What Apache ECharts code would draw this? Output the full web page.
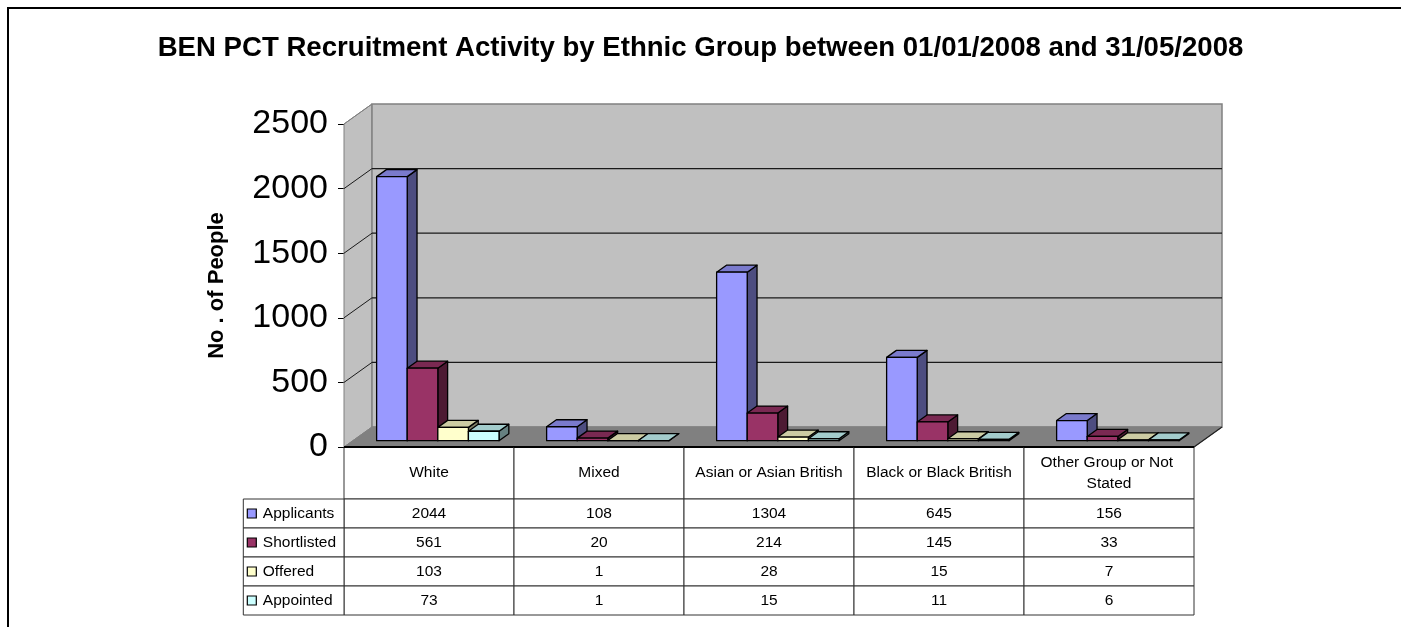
<!DOCTYPE html>
<html>
<head>
<meta charset="utf-8">
<script src="https://cdn.jsdelivr.net/npm/echarts@6/dist/echarts.min.js"></script>
<style>
  html, body { margin: 0; padding: 0; background: #fff; }
  #chart { width: 1401px; height: 627px; }
</style>
</head>
<body>
<div id="chart"></div>
<script>
// Recruitment counts per ethnic group
const categories = ['White', 'Mixed', 'Asian or Asian British', 'Black or Black British', 'Other Group or Not Stated'];
const applicants = [2044, 108, 1304, 645, 156];
const shortlisted = [561, 20, 214, 145, 33];
const offered = [103, 1, 28, 15, 7];
const appointed = [73, 1, 15, 11, 6];
const seriesNames = ['Applicants', 'Shortlisted', 'Offered', 'Appointed'];
const yTicks = [0, 500, 1000, 1500, 2000, 2500];

const seriesValues = [applicants, shortlisted, offered, appointed];

// Styling for the oblique 3D look
const FONT = '"Liberation Sans", Arial, Helvetica, sans-serif';
const PALETTE = [
  { front: '#9999FF', top: '#7A7ACC', side: '#4D4D80' },
  { front: '#993366', top: '#7A2952', side: '#4D1A33' },
  { front: '#FFFFCC', top: '#CCCCA3', side: '#808066' },
  { front: '#CCFFFF', top: '#A3CCCC', side: '#668080' }
];
const DX = 28, DY = -20;       // full depth of the walls
const D0 = 0.315, DB = 0.35;   // bar start depth and bar depth (fractions)
const BAR_W = 0.18;            // bar width as a fraction of the category band
const HEADER_H = 52, ROW_H = 29, KEY_COL_W = 100.7;

const chart = echarts.init(document.getElementById('chart'), null, { renderer: 'canvas' });

function wallRender(params, api) {
  const cs = params.coordSys;
  const L = cs.x, T = cs.y, R = cs.x + cs.width, B = cs.y + cs.height;
  const kids = [];
  // left side wall
  kids.push({ type: 'polygon', shape: { points: [[L, T], [L + DX, T + DY], [L + DX, B + DY], [L, B]] },
    style: { fill: '#C0C0C0', stroke: '#808080', lineWidth: 1 } });
  // back wall
  kids.push({ type: 'rect', shape: { x: L + DX, y: T + DY, width: cs.width, height: cs.height },
    style: { fill: '#C0C0C0', stroke: '#808080', lineWidth: 1.5 } });
  // floor
  kids.push({ type: 'polygon', shape: { points: [[L, B], [L + DX, B + DY], [R + DX, B + DY], [R, B]] },
    style: { fill: '#808080', stroke: '#808080', lineWidth: 1 } });
  kids.push({ type: 'line', shape: { x1: R, y1: B, x2: R + DX, y2: B + DY },
    style: { stroke: '#202020', lineWidth: 1.2 } });
  // gridlines on the back wall and matching lines across the side wall
  yTicks.forEach(function (t) {
    if (t === 0 || t === 2500) return;
    const y = api.coord([0, t])[1];
    kids.push({ type: 'line', shape: { x1: L + DX, y1: y + DY, x2: R + DX, y2: y + DY },
      style: { stroke: '#1a1a1a', lineWidth: 1.2 } });
    kids.push({ type: 'line', shape: { x1: L, y1: y, x2: L + DX, y2: y + DY },
      style: { stroke: '#1a1a1a', lineWidth: 1 } });
  });
  const yTop = api.coord([0, 2500])[1];
  kids.push({ type: 'line', shape: { x1: L, y1: yTop, x2: L + DX, y2: yTop + DY },
    style: { stroke: '#808080', lineWidth: 1 } });
  // front edge of the floor
  kids.push({ type: 'line', shape: { x1: L, y1: B, x2: R, y2: B },
    style: { stroke: '#000', lineWidth: 2 } });
  return { type: 'group', children: kids };
}

function barRender(si) {
  return function (params, api) {
    const ci = api.value(0), v = api.value(1);
    const p0 = api.coord([ci, 0]), p1 = api.coord([ci, v]);
    const band = api.size([1, 0])[0];
    const w = band * BAR_W;
    const x0 = p0[0] - band / 2 + band * (1 - 4 * BAR_W) / 2 + si * w + DX * D0;
    const yb = p0[1] + DY * D0, yt = p1[1] + DY * D0;
    const ox = DX * DB, oy = DY * DB;
    const c = PALETTE[si];
    const edge = { stroke: '#000', lineWidth: 1.3, lineJoin: 'round' };
    return { type: 'group', children: [
      { type: 'polygon', shape: { points: [[x0 + w, yb], [x0 + w + ox, yb + oy], [x0 + w + ox, yt + oy], [x0 + w, yt]] },
        style: Object.assign({ fill: c.side }, edge) },
      { type: 'polygon', shape: { points: [[x0, yt], [x0 + w, yt], [x0 + w + ox, yt + oy], [x0 + ox, yt + oy]] },
        style: Object.assign({ fill: c.top }, edge) },
      { type: 'rect', shape: { x: x0, y: yt, width: w, height: yb - yt },
        style: Object.assign({ fill: c.front }, edge) }
    ] };
  };
}

// one column of the data table beneath each category
function tableColumnRender(params, api) {
  const ci = api.value(0);
  const p = api.coord([ci, 0]);
  const band = api.size([1, 0])[0];
  const x = p[0] - band / 2, top = p[1];
  const cell = { fill: '#fff', stroke: '#333', lineWidth: 1 };
  const txt = { fill: '#000', fontSize: 15.5, fontFamily: FONT, align: 'center', verticalAlign: 'middle' };
  const kids = [
    { type: 'rect', shape: { x: x, y: top, width: band, height: HEADER_H }, style: cell },
    { type: 'text', style: Object.assign({ text: categories[ci], x: x + band / 2, y: top + HEADER_H / 2,
        width: band - 8, overflow: 'break', lineHeight: 21 }, txt) }
  ];
  seriesValues.forEach(function (vals, si) {
    const y = top + HEADER_H + si * ROW_H;
    kids.push({ type: 'rect', shape: { x: x, y: y, width: band, height: ROW_H }, style: cell });
    kids.push({ type: 'text', style: Object.assign({ text: String(vals[ci]), x: x + band / 2, y: y + ROW_H / 2 }, txt) });
  });
  kids.push({ type: 'line', shape: { x1: x, y1: top, x2: x + band, y2: top }, style: { stroke: '#000', lineWidth: 2 } });
  return { type: 'group', children: kids };
}

// series keys on the left of the table
function tableKeyRender(params, api) {
  const si = params.dataIndex;
  const cs = params.coordSys;
  const L = cs.x, B = cs.y + cs.height;
  const y = B + HEADER_H + si * ROW_H;
  return { type: 'group', children: [
    { type: 'rect', shape: { x: L - KEY_COL_W, y: y, width: KEY_COL_W, height: ROW_H },
      style: { fill: '#fff', stroke: '#333', lineWidth: 1 } },
    { type: 'rect', shape: { x: L - KEY_COL_W + 4, y: y + ROW_H / 2 - 4.5, width: 9, height: 9 },
      style: { fill: PALETTE[si].front, stroke: '#000', lineWidth: 1.2 } },
    { type: 'text', style: { text: seriesNames[si], x: L - KEY_COL_W + 19.5, y: y + ROW_H / 2,
        fill: '#000', fontSize: 15.5, fontFamily: FONT, align: 'left', verticalAlign: 'middle' } }
  ] };
}

const option = {
  animation: false,
  backgroundColor: '#fff',
  title: {
    text: 'BEN PCT Recruitment Activity by Ethnic Group between 01/01/2008 and 31/05/2008',
    left: 'center',
    top: 29,
    textStyle: { fontSize: 27.6, fontWeight: 'bold', color: '#000', fontFamily: FONT }
  },
  graphic: [{
    type: 'rect', z: 100, silent: true,
    shape: { x: 8, y: 8, width: 1500, height: 800 },
    style: { fill: 'none', stroke: '#000', lineWidth: 2 }
  }],
  grid: { left: 344, top: 124, width: 850, height: 323 },
  xAxis: {
    type: 'category', data: categories,
    axisLine: { show: false }, axisTick: { show: false }, axisLabel: { show: false }, splitLine: { show: false }
  },
  yAxis: {
    type: 'value', min: 0, max: 2500, interval: 500,
    axisLine: { show: true, lineStyle: { color: '#404040', width: 1 } },
    axisTick: { show: true, length: 6, lineStyle: { color: '#000' } },
    axisLabel: { fontSize: 34, color: '#000', margin: 16, fontFamily: FONT,
      formatter: function (v) { return String(v); } },
    splitLine: { show: false },
    name: 'No . of People', nameLocation: 'middle', nameRotate: 90, nameGap: 116,
    nameTextStyle: { fontSize: 22, fontWeight: 'bold', color: '#000', fontFamily: FONT }
  },
  series: [
    { type: 'custom', name: 'walls', renderItem: wallRender, data: [[0, 0]], z: 1, silent: true, clip: false }
  ].concat(seriesValues.map(function (vals, si) {
    return {
      type: 'custom', name: seriesNames[si], renderItem: barRender(si), z: 2, clip: false,
      data: vals.map(function (v, i) { return [i, v]; })
    };
  })).concat([
    { type: 'custom', name: 'table', renderItem: tableColumnRender, z: 3, silent: true, clip: false,
      data: categories.map(function (c, i) { return [i, 0]; }) },
    { type: 'custom', name: 'keys', renderItem: tableKeyRender, z: 3, silent: true, clip: false,
      data: seriesNames.map(function () { return [0, 0]; }) }
  ])
};

chart.setOption(option);
</script>
</body>
</html>
